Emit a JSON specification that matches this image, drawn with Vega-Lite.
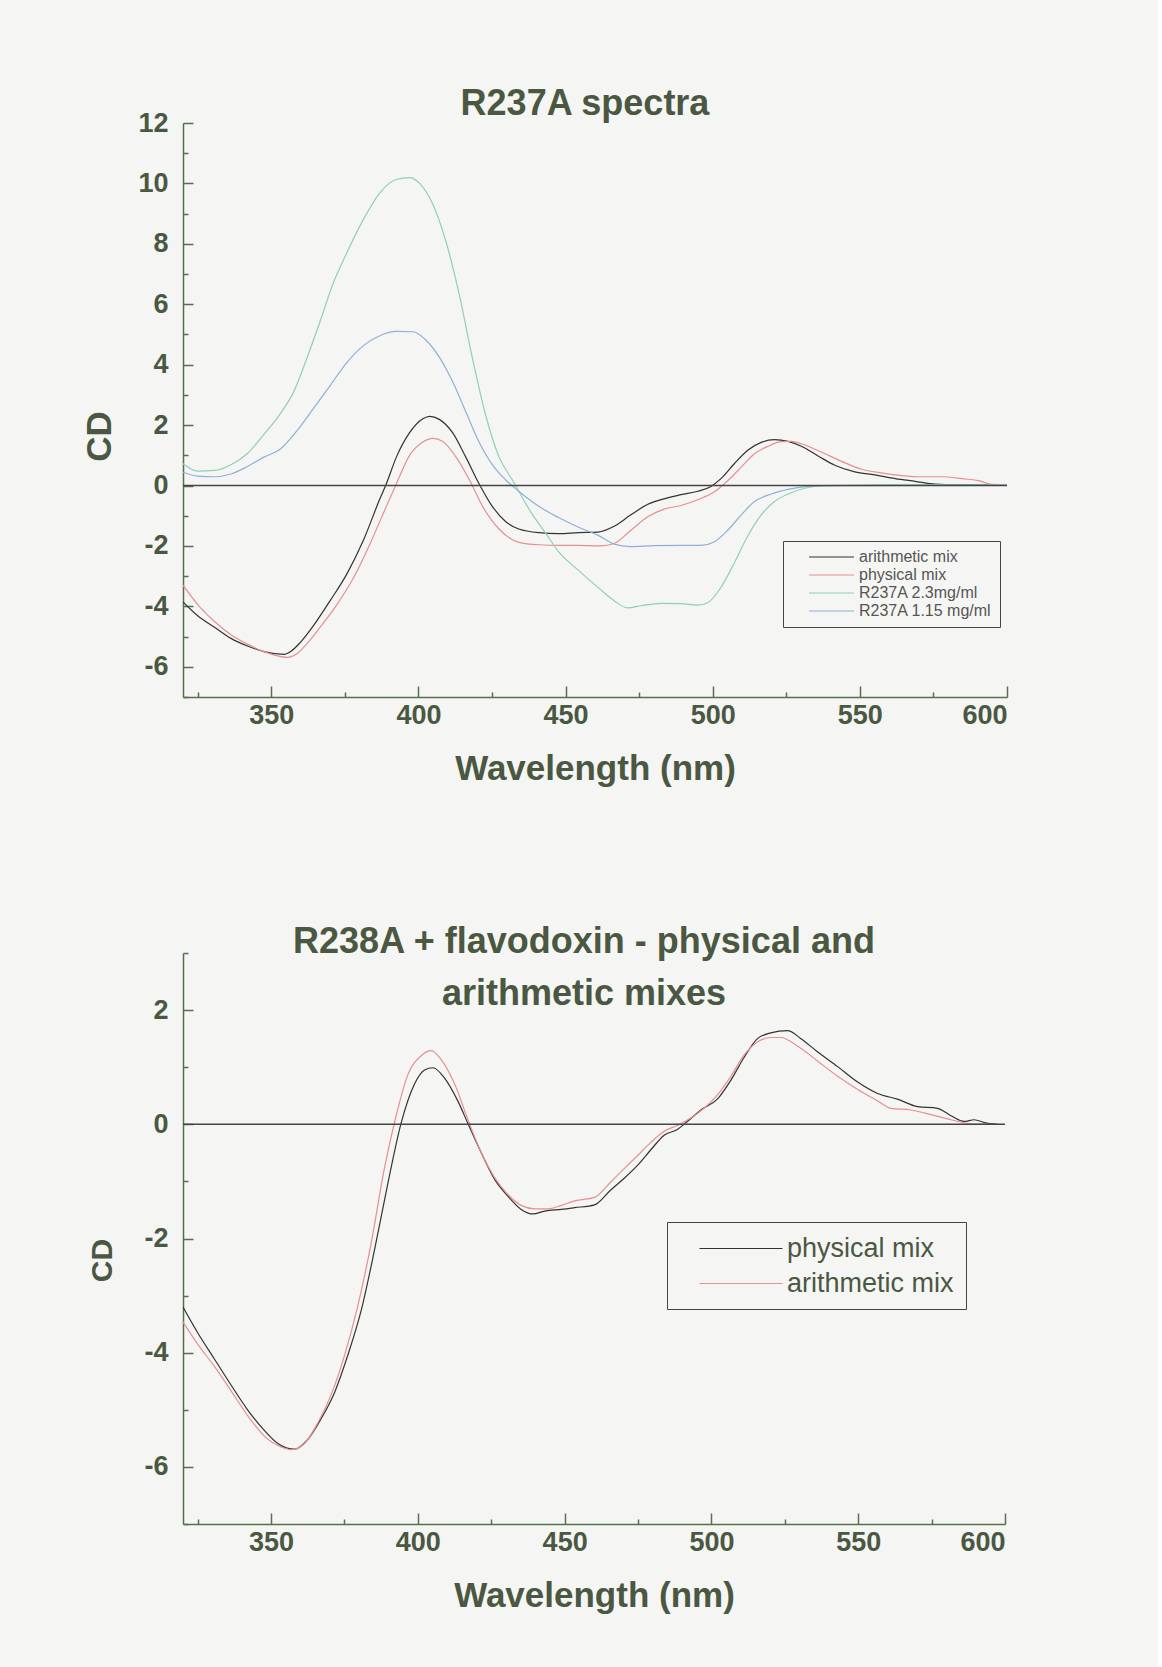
{
  "$schema": "https://vega.github.io/schema/vega-lite/v6.json",
  "background": "#f5f5f3",
  "padding": {"left": 82, "top": 86, "right": 150, "bottom": 60},
  "spacing": 138,
  "config": {
    "view": {"stroke": null},
    "font": "Liberation Sans",
    "axis": {
      "labelFont": "Liberation Sans", "labelFontWeight": "bold", "labelFontSize": 27, "labelColor": "#4a5842",
      "titleFont": "Liberation Sans", "titleFontWeight": "bold", "titleFontSize": 35, "titleColor": "#4a5842",
      "domainColor": "#55704a", "domainWidth": 1.5, "tickColor": "#55704a", "tickWidth": 1.5, "grid": false,
      "labelExpr": "replace(datum.label, '\u2212', '-')"
    },
    "title": {"font": "Liberation Sans", "fontWeight": "bold", "fontSize": 36, "color": "#4a5842"}
  },
  "datasets": {
    "top": [
      {"wl": 320, "cd": -3.85, "series": "arithmetic mix"},
      {"wl": 325, "cd": -4.31, "series": "arithmetic mix"},
      {"wl": 330.7, "cd": -4.69, "series": "arithmetic mix"},
      {"wl": 336.3, "cd": -5.06, "series": "arithmetic mix"},
      {"wl": 341.9, "cd": -5.31, "series": "arithmetic mix"},
      {"wl": 347.5, "cd": -5.5, "series": "arithmetic mix"},
      {"wl": 354.3, "cd": -5.59, "series": "arithmetic mix"},
      {"wl": 356.5, "cd": -5.5, "series": "arithmetic mix"},
      {"wl": 359.9, "cd": -5.19, "series": "arithmetic mix"},
      {"wl": 364.4, "cd": -4.63, "series": "arithmetic mix"},
      {"wl": 370, "cd": -3.81, "series": "arithmetic mix"},
      {"wl": 375.6, "cd": -2.94, "series": "arithmetic mix"},
      {"wl": 381.3, "cd": -1.81, "series": "arithmetic mix"},
      {"wl": 386.9, "cd": -0.44, "series": "arithmetic mix"},
      {"wl": 389.1, "cd": 0.06, "series": "arithmetic mix"},
      {"wl": 392.5, "cd": 0.94, "series": "arithmetic mix"},
      {"wl": 397, "cd": 1.75, "series": "arithmetic mix"},
      {"wl": 401.5, "cd": 2.21, "series": "arithmetic mix"},
      {"wl": 403.8, "cd": 2.29, "series": "arithmetic mix"},
      {"wl": 407.1, "cd": 2.19, "series": "arithmetic mix"},
      {"wl": 411.6, "cd": 1.75, "series": "arithmetic mix"},
      {"wl": 416.1, "cd": 0.94, "series": "arithmetic mix"},
      {"wl": 420.6, "cd": 0.06, "series": "arithmetic mix"},
      {"wl": 425.1, "cd": -0.69, "series": "arithmetic mix"},
      {"wl": 429.6, "cd": -1.19, "series": "arithmetic mix"},
      {"wl": 434.1, "cd": -1.44, "series": "arithmetic mix"},
      {"wl": 440.9, "cd": -1.56, "series": "arithmetic mix"},
      {"wl": 447.6, "cd": -1.59, "series": "arithmetic mix"},
      {"wl": 454.4, "cd": -1.56, "series": "arithmetic mix"},
      {"wl": 461.1, "cd": -1.54, "series": "arithmetic mix"},
      {"wl": 466.5, "cd": -1.35, "series": "arithmetic mix"},
      {"wl": 472.2, "cd": -0.97, "series": "arithmetic mix"},
      {"wl": 477.8, "cd": -0.63, "series": "arithmetic mix"},
      {"wl": 483.5, "cd": -0.44, "series": "arithmetic mix"},
      {"wl": 489.2, "cd": -0.3, "series": "arithmetic mix"},
      {"wl": 494.9, "cd": -0.19, "series": "arithmetic mix"},
      {"wl": 499.4, "cd": -0.03, "series": "arithmetic mix"},
      {"wl": 502.8, "cd": 0.23, "series": "arithmetic mix"},
      {"wl": 507.4, "cd": 0.73, "series": "arithmetic mix"},
      {"wl": 511.9, "cd": 1.17, "series": "arithmetic mix"},
      {"wl": 516.5, "cd": 1.43, "series": "arithmetic mix"},
      {"wl": 521, "cd": 1.52, "series": "arithmetic mix"},
      {"wl": 525.6, "cd": 1.46, "series": "arithmetic mix"},
      {"wl": 530.1, "cd": 1.3, "series": "arithmetic mix"},
      {"wl": 535.8, "cd": 0.98, "series": "arithmetic mix"},
      {"wl": 541.5, "cd": 0.67, "series": "arithmetic mix"},
      {"wl": 548.3, "cd": 0.45, "series": "arithmetic mix"},
      {"wl": 555.1, "cd": 0.35, "series": "arithmetic mix"},
      {"wl": 562, "cd": 0.23, "series": "arithmetic mix"},
      {"wl": 568.8, "cd": 0.14, "series": "arithmetic mix"},
      {"wl": 575.6, "cd": 0.05, "series": "arithmetic mix"},
      {"wl": 582.4, "cd": 0.03, "series": "arithmetic mix"},
      {"wl": 600, "cd": 0.03, "series": "arithmetic mix"},

      {"wl": 320, "cd": -3.3, "series": "physical mix"},
      {"wl": 325, "cd": -3.94, "series": "physical mix"},
      {"wl": 330.7, "cd": -4.5, "series": "physical mix"},
      {"wl": 336.3, "cd": -4.94, "series": "physical mix"},
      {"wl": 341.9, "cd": -5.25, "series": "physical mix"},
      {"wl": 347.5, "cd": -5.5, "series": "physical mix"},
      {"wl": 355.4, "cd": -5.69, "series": "physical mix"},
      {"wl": 358.8, "cd": -5.56, "series": "physical mix"},
      {"wl": 362, "cd": -5.25, "series": "physical mix"},
      {"wl": 366.6, "cd": -4.69, "series": "physical mix"},
      {"wl": 372.3, "cd": -3.94, "series": "physical mix"},
      {"wl": 377.9, "cd": -3.06, "series": "physical mix"},
      {"wl": 383.5, "cd": -1.94, "series": "physical mix"},
      {"wl": 389.1, "cd": -0.69, "series": "physical mix"},
      {"wl": 392.5, "cd": 0.06, "series": "physical mix"},
      {"wl": 397, "cd": 1.0, "series": "physical mix"},
      {"wl": 401.5, "cd": 1.44, "series": "physical mix"},
      {"wl": 404.9, "cd": 1.56, "series": "physical mix"},
      {"wl": 408.3, "cd": 1.46, "series": "physical mix"},
      {"wl": 412.8, "cd": 0.94, "series": "physical mix"},
      {"wl": 417.3, "cd": 0.19, "series": "physical mix"},
      {"wl": 421.8, "cd": -0.69, "series": "physical mix"},
      {"wl": 427.4, "cd": -1.44, "series": "physical mix"},
      {"wl": 434.1, "cd": -1.88, "series": "physical mix"},
      {"wl": 440.9, "cd": -1.96, "series": "physical mix"},
      {"wl": 447.6, "cd": -1.98, "series": "physical mix"},
      {"wl": 454.4, "cd": -1.98, "series": "physical mix"},
      {"wl": 461.9, "cd": -2.0, "series": "physical mix"},
      {"wl": 466.5, "cd": -1.92, "series": "physical mix"},
      {"wl": 472.2, "cd": -1.48, "series": "physical mix"},
      {"wl": 477.8, "cd": -1.04, "series": "physical mix"},
      {"wl": 483.5, "cd": -0.78, "series": "physical mix"},
      {"wl": 489.2, "cd": -0.66, "series": "physical mix"},
      {"wl": 494.9, "cd": -0.47, "series": "physical mix"},
      {"wl": 500.6, "cd": -0.21, "series": "physical mix"},
      {"wl": 505.1, "cd": 0.16, "series": "physical mix"},
      {"wl": 509.7, "cd": 0.61, "series": "physical mix"},
      {"wl": 514.2, "cd": 1.05, "series": "physical mix"},
      {"wl": 518.8, "cd": 1.3, "series": "physical mix"},
      {"wl": 523.3, "cd": 1.45, "series": "physical mix"},
      {"wl": 526.7, "cd": 1.46, "series": "physical mix"},
      {"wl": 531.3, "cd": 1.34, "series": "physical mix"},
      {"wl": 536.9, "cd": 1.11, "series": "physical mix"},
      {"wl": 543.8, "cd": 0.8, "series": "physical mix"},
      {"wl": 550.6, "cd": 0.54, "series": "physical mix"},
      {"wl": 557.4, "cd": 0.42, "series": "physical mix"},
      {"wl": 564.2, "cd": 0.33, "series": "physical mix"},
      {"wl": 571, "cd": 0.29, "series": "physical mix"},
      {"wl": 577.8, "cd": 0.29, "series": "physical mix"},
      {"wl": 584.7, "cd": 0.23, "series": "physical mix"},
      {"wl": 590.3, "cd": 0.16, "series": "physical mix"},
      {"wl": 594.9, "cd": 0.04, "series": "physical mix"},
      {"wl": 600, "cd": 0.03, "series": "physical mix"},

      {"wl": 320, "cd": 0.72, "series": "R237A 2.3mg/ml"},
      {"wl": 325, "cd": 0.48, "series": "R237A 2.3mg/ml"},
      {"wl": 330.7, "cd": 0.5, "series": "R237A 2.3mg/ml"},
      {"wl": 336.3, "cd": 0.69, "series": "R237A 2.3mg/ml"},
      {"wl": 341.9, "cd": 1.06, "series": "R237A 2.3mg/ml"},
      {"wl": 347.5, "cd": 1.69, "series": "R237A 2.3mg/ml"},
      {"wl": 353.1, "cd": 2.38, "series": "R237A 2.3mg/ml"},
      {"wl": 357.6, "cd": 3.1, "series": "R237A 2.3mg/ml"},
      {"wl": 362, "cd": 4.19, "series": "R237A 2.3mg/ml"},
      {"wl": 366.6, "cd": 5.44, "series": "R237A 2.3mg/ml"},
      {"wl": 371, "cd": 6.69, "series": "R237A 2.3mg/ml"},
      {"wl": 375.6, "cd": 7.69, "series": "R237A 2.3mg/ml"},
      {"wl": 381.3, "cd": 8.81, "series": "R237A 2.3mg/ml"},
      {"wl": 386.9, "cd": 9.69, "series": "R237A 2.3mg/ml"},
      {"wl": 392.5, "cd": 10.13, "series": "R237A 2.3mg/ml"},
      {"wl": 397, "cd": 10.19, "series": "R237A 2.3mg/ml"},
      {"wl": 400.4, "cd": 10.0, "series": "R237A 2.3mg/ml"},
      {"wl": 404.9, "cd": 9.31, "series": "R237A 2.3mg/ml"},
      {"wl": 409.4, "cd": 8.06, "series": "R237A 2.3mg/ml"},
      {"wl": 413.9, "cd": 6.31, "series": "R237A 2.3mg/ml"},
      {"wl": 418.4, "cd": 4.19, "series": "R237A 2.3mg/ml"},
      {"wl": 422.9, "cd": 2.31, "series": "R237A 2.3mg/ml"},
      {"wl": 427.4, "cd": 0.94, "series": "R237A 2.3mg/ml"},
      {"wl": 431.9, "cd": 0.19, "series": "R237A 2.3mg/ml"},
      {"wl": 434.1, "cd": -0.19, "series": "R237A 2.3mg/ml"},
      {"wl": 438.6, "cd": -0.94, "series": "R237A 2.3mg/ml"},
      {"wl": 443.1, "cd": -1.56, "series": "R237A 2.3mg/ml"},
      {"wl": 447.6, "cd": -2.19, "series": "R237A 2.3mg/ml"},
      {"wl": 454.4, "cd": -2.81, "series": "R237A 2.3mg/ml"},
      {"wl": 461.1, "cd": -3.38, "series": "R237A 2.3mg/ml"},
      {"wl": 466.5, "cd": -3.81, "series": "R237A 2.3mg/ml"},
      {"wl": 471, "cd": -4.05, "series": "R237A 2.3mg/ml"},
      {"wl": 475.6, "cd": -3.98, "series": "R237A 2.3mg/ml"},
      {"wl": 482.4, "cd": -3.9, "series": "R237A 2.3mg/ml"},
      {"wl": 489.2, "cd": -3.91, "series": "R237A 2.3mg/ml"},
      {"wl": 494.9, "cd": -3.96, "series": "R237A 2.3mg/ml"},
      {"wl": 498.3, "cd": -3.88, "series": "R237A 2.3mg/ml"},
      {"wl": 502.8, "cd": -3.37, "series": "R237A 2.3mg/ml"},
      {"wl": 507.4, "cd": -2.55, "series": "R237A 2.3mg/ml"},
      {"wl": 511.9, "cd": -1.67, "series": "R237A 2.3mg/ml"},
      {"wl": 516.5, "cd": -0.97, "series": "R237A 2.3mg/ml"},
      {"wl": 521, "cd": -0.53, "series": "R237A 2.3mg/ml"},
      {"wl": 525.6, "cd": -0.28, "series": "R237A 2.3mg/ml"},
      {"wl": 531.3, "cd": -0.09, "series": "R237A 2.3mg/ml"},
      {"wl": 536.9, "cd": 0.0, "series": "R237A 2.3mg/ml"},
      {"wl": 560, "cd": 0.02, "series": "R237A 2.3mg/ml"},
      {"wl": 600, "cd": 0.02, "series": "R237A 2.3mg/ml"},

      {"wl": 320, "cd": 0.44, "series": "R237A 1.15 mg/ml"},
      {"wl": 325, "cd": 0.31, "series": "R237A 1.15 mg/ml"},
      {"wl": 330.7, "cd": 0.29, "series": "R237A 1.15 mg/ml"},
      {"wl": 336.3, "cd": 0.38, "series": "R237A 1.15 mg/ml"},
      {"wl": 341.9, "cd": 0.63, "series": "R237A 1.15 mg/ml"},
      {"wl": 347.5, "cd": 0.94, "series": "R237A 1.15 mg/ml"},
      {"wl": 353.1, "cd": 1.21, "series": "R237A 1.15 mg/ml"},
      {"wl": 358.7, "cd": 1.81, "series": "R237A 1.15 mg/ml"},
      {"wl": 364.4, "cd": 2.56, "series": "R237A 1.15 mg/ml"},
      {"wl": 370, "cd": 3.31, "series": "R237A 1.15 mg/ml"},
      {"wl": 375.6, "cd": 4.06, "series": "R237A 1.15 mg/ml"},
      {"wl": 381.3, "cd": 4.63, "series": "R237A 1.15 mg/ml"},
      {"wl": 386.9, "cd": 4.96, "series": "R237A 1.15 mg/ml"},
      {"wl": 392.5, "cd": 5.1, "series": "R237A 1.15 mg/ml"},
      {"wl": 398.1, "cd": 5.09, "series": "R237A 1.15 mg/ml"},
      {"wl": 402.6, "cd": 4.81, "series": "R237A 1.15 mg/ml"},
      {"wl": 407.1, "cd": 4.25, "series": "R237A 1.15 mg/ml"},
      {"wl": 411.6, "cd": 3.44, "series": "R237A 1.15 mg/ml"},
      {"wl": 416.1, "cd": 2.44, "series": "R237A 1.15 mg/ml"},
      {"wl": 420.6, "cd": 1.44, "series": "R237A 1.15 mg/ml"},
      {"wl": 425.1, "cd": 0.69, "series": "R237A 1.15 mg/ml"},
      {"wl": 429.6, "cd": 0.19, "series": "R237A 1.15 mg/ml"},
      {"wl": 434.1, "cd": -0.19, "series": "R237A 1.15 mg/ml"},
      {"wl": 440.9, "cd": -0.69, "series": "R237A 1.15 mg/ml"},
      {"wl": 447.6, "cd": -1.06, "series": "R237A 1.15 mg/ml"},
      {"wl": 454.4, "cd": -1.38, "series": "R237A 1.15 mg/ml"},
      {"wl": 461.1, "cd": -1.65, "series": "R237A 1.15 mg/ml"},
      {"wl": 466.5, "cd": -1.94, "series": "R237A 1.15 mg/ml"},
      {"wl": 471.9, "cd": -2.02, "series": "R237A 1.15 mg/ml"},
      {"wl": 480.1, "cd": -1.99, "series": "R237A 1.15 mg/ml"},
      {"wl": 489.2, "cd": -1.98, "series": "R237A 1.15 mg/ml"},
      {"wl": 496, "cd": -1.98, "series": "R237A 1.15 mg/ml"},
      {"wl": 500.6, "cd": -1.86, "series": "R237A 1.15 mg/ml"},
      {"wl": 505.1, "cd": -1.48, "series": "R237A 1.15 mg/ml"},
      {"wl": 509.7, "cd": -0.97, "series": "R237A 1.15 mg/ml"},
      {"wl": 514.2, "cd": -0.53, "series": "R237A 1.15 mg/ml"},
      {"wl": 519.9, "cd": -0.28, "series": "R237A 1.15 mg/ml"},
      {"wl": 525.6, "cd": -0.13, "series": "R237A 1.15 mg/ml"},
      {"wl": 532.4, "cd": -0.03, "series": "R237A 1.15 mg/ml"},
      {"wl": 542.6, "cd": 0.0, "series": "R237A 1.15 mg/ml"},
      {"wl": 600, "cd": 0.01, "series": "R237A 1.15 mg/ml"}
    ],
    "bottom": [
      {"wl": 320, "cd": -3.2, "series": "physical mix"},
      {"wl": 325, "cd": -3.65, "series": "physical mix"},
      {"wl": 330.7, "cd": -4.11, "series": "physical mix"},
      {"wl": 336.4, "cd": -4.57, "series": "physical mix"},
      {"wl": 342, "cd": -5.0, "series": "physical mix"},
      {"wl": 347.7, "cd": -5.36, "series": "physical mix"},
      {"wl": 352.3, "cd": -5.59, "series": "physical mix"},
      {"wl": 358, "cd": -5.69, "series": "physical mix"},
      {"wl": 362.5, "cd": -5.52, "series": "physical mix"},
      {"wl": 367, "cd": -5.16, "series": "physical mix"},
      {"wl": 371.6, "cd": -4.7, "series": "physical mix"},
      {"wl": 376.1, "cd": -4.05, "series": "physical mix"},
      {"wl": 380.7, "cd": -3.26, "series": "physical mix"},
      {"wl": 385.2, "cd": -2.21, "series": "physical mix"},
      {"wl": 389.8, "cd": -1.03, "series": "physical mix"},
      {"wl": 394.3, "cd": 0.02, "series": "physical mix"},
      {"wl": 398.9, "cd": 0.71, "series": "physical mix"},
      {"wl": 402.3, "cd": 0.95, "series": "physical mix"},
      {"wl": 405.1, "cd": 0.99, "series": "physical mix"},
      {"wl": 409.1, "cd": 0.81, "series": "physical mix"},
      {"wl": 413.6, "cd": 0.41, "series": "physical mix"},
      {"wl": 417, "cd": 0.02, "series": "physical mix"},
      {"wl": 421.6, "cd": -0.5, "series": "physical mix"},
      {"wl": 426.1, "cd": -0.96, "series": "physical mix"},
      {"wl": 430.7, "cd": -1.26, "series": "physical mix"},
      {"wl": 435.2, "cd": -1.49, "series": "physical mix"},
      {"wl": 439.2, "cd": -1.57, "series": "physical mix"},
      {"wl": 443.2, "cd": -1.52, "series": "physical mix"},
      {"wl": 448.9, "cd": -1.49, "series": "physical mix"},
      {"wl": 453.4, "cd": -1.46, "series": "physical mix"},
      {"wl": 460.2, "cd": -1.41, "series": "physical mix"},
      {"wl": 465.7, "cd": -1.15, "series": "physical mix"},
      {"wl": 470.2, "cd": -0.95, "series": "physical mix"},
      {"wl": 474.8, "cd": -0.72, "series": "physical mix"},
      {"wl": 479.3, "cd": -0.45, "series": "physical mix"},
      {"wl": 483.9, "cd": -0.19, "series": "physical mix"},
      {"wl": 488.4, "cd": -0.09, "series": "physical mix"},
      {"wl": 491.8, "cd": 0.05, "series": "physical mix"},
      {"wl": 496.4, "cd": 0.25, "series": "physical mix"},
      {"wl": 502, "cd": 0.44, "series": "physical mix"},
      {"wl": 506.6, "cd": 0.77, "series": "physical mix"},
      {"wl": 511.1, "cd": 1.17, "series": "physical mix"},
      {"wl": 515.7, "cd": 1.5, "series": "physical mix"},
      {"wl": 520.2, "cd": 1.6, "series": "physical mix"},
      {"wl": 525.9, "cd": 1.64, "series": "physical mix"},
      {"wl": 530.5, "cd": 1.5, "series": "physical mix"},
      {"wl": 536.1, "cd": 1.27, "series": "physical mix"},
      {"wl": 543, "cd": 1.01, "series": "physical mix"},
      {"wl": 549.8, "cd": 0.74, "series": "physical mix"},
      {"wl": 556.6, "cd": 0.54, "series": "physical mix"},
      {"wl": 563.4, "cd": 0.44, "series": "physical mix"},
      {"wl": 570.2, "cd": 0.31, "series": "physical mix"},
      {"wl": 577, "cd": 0.28, "series": "physical mix"},
      {"wl": 581.6, "cd": 0.15, "series": "physical mix"},
      {"wl": 586.1, "cd": 0.05, "series": "physical mix"},
      {"wl": 589.5, "cd": 0.08, "series": "physical mix"},
      {"wl": 593, "cd": 0.03, "series": "physical mix"},
      {"wl": 597.5, "cd": 0.0, "series": "physical mix"},

      {"wl": 320, "cd": -3.46, "series": "arithmetic mix"},
      {"wl": 325, "cd": -3.85, "series": "arithmetic mix"},
      {"wl": 330.7, "cd": -4.24, "series": "arithmetic mix"},
      {"wl": 336.4, "cd": -4.67, "series": "arithmetic mix"},
      {"wl": 342, "cd": -5.1, "series": "arithmetic mix"},
      {"wl": 347.7, "cd": -5.46, "series": "arithmetic mix"},
      {"wl": 353.4, "cd": -5.65, "series": "arithmetic mix"},
      {"wl": 356.8, "cd": -5.7, "series": "arithmetic mix"},
      {"wl": 361.4, "cd": -5.59, "series": "arithmetic mix"},
      {"wl": 365.9, "cd": -5.23, "series": "arithmetic mix"},
      {"wl": 370.5, "cd": -4.73, "series": "arithmetic mix"},
      {"wl": 375, "cd": -4.05, "series": "arithmetic mix"},
      {"wl": 379.5, "cd": -3.19, "series": "arithmetic mix"},
      {"wl": 384.1, "cd": -2.08, "series": "arithmetic mix"},
      {"wl": 388.6, "cd": -0.77, "series": "arithmetic mix"},
      {"wl": 392.6, "cd": 0.15, "series": "arithmetic mix"},
      {"wl": 396.6, "cd": 0.87, "series": "arithmetic mix"},
      {"wl": 401.1, "cd": 1.2, "series": "arithmetic mix"},
      {"wl": 404.5, "cd": 1.29, "series": "arithmetic mix"},
      {"wl": 408, "cd": 1.13, "series": "arithmetic mix"},
      {"wl": 412.5, "cd": 0.71, "series": "arithmetic mix"},
      {"wl": 417, "cd": 0.09, "series": "arithmetic mix"},
      {"wl": 421.6, "cd": -0.5, "series": "arithmetic mix"},
      {"wl": 426.1, "cd": -0.93, "series": "arithmetic mix"},
      {"wl": 430.7, "cd": -1.23, "series": "arithmetic mix"},
      {"wl": 435.2, "cd": -1.42, "series": "arithmetic mix"},
      {"wl": 439.8, "cd": -1.48, "series": "arithmetic mix"},
      {"wl": 444.3, "cd": -1.48, "series": "arithmetic mix"},
      {"wl": 448.9, "cd": -1.42, "series": "arithmetic mix"},
      {"wl": 453.4, "cd": -1.34, "series": "arithmetic mix"},
      {"wl": 460.2, "cd": -1.28, "series": "arithmetic mix"},
      {"wl": 465.7, "cd": -1.01, "series": "arithmetic mix"},
      {"wl": 470.2, "cd": -0.78, "series": "arithmetic mix"},
      {"wl": 474.8, "cd": -0.55, "series": "arithmetic mix"},
      {"wl": 479.3, "cd": -0.32, "series": "arithmetic mix"},
      {"wl": 483.9, "cd": -0.12, "series": "arithmetic mix"},
      {"wl": 488.4, "cd": -0.02, "series": "arithmetic mix"},
      {"wl": 493, "cd": 0.11, "series": "arithmetic mix"},
      {"wl": 497.5, "cd": 0.28, "series": "arithmetic mix"},
      {"wl": 502, "cd": 0.51, "series": "arithmetic mix"},
      {"wl": 506.6, "cd": 0.84, "series": "arithmetic mix"},
      {"wl": 511.1, "cd": 1.21, "series": "arithmetic mix"},
      {"wl": 515.7, "cd": 1.44, "series": "arithmetic mix"},
      {"wl": 520.2, "cd": 1.52, "series": "arithmetic mix"},
      {"wl": 523.6, "cd": 1.52, "series": "arithmetic mix"},
      {"wl": 529.3, "cd": 1.37, "series": "arithmetic mix"},
      {"wl": 536.1, "cd": 1.11, "series": "arithmetic mix"},
      {"wl": 543, "cd": 0.84, "series": "arithmetic mix"},
      {"wl": 549.8, "cd": 0.61, "series": "arithmetic mix"},
      {"wl": 556.6, "cd": 0.41, "series": "arithmetic mix"},
      {"wl": 561.1, "cd": 0.28, "series": "arithmetic mix"},
      {"wl": 568, "cd": 0.25, "series": "arithmetic mix"},
      {"wl": 574.8, "cd": 0.17, "series": "arithmetic mix"},
      {"wl": 581.6, "cd": 0.08, "series": "arithmetic mix"},
      {"wl": 588.4, "cd": 0.01, "series": "arithmetic mix"},
      {"wl": 597, "cd": 0.0, "series": "arithmetic mix"}
    ]
  },
  "resolve": {"scale": {"color": "independent"}},
  "vconcat": [
    {
      "width": 824,
      "height": 574,
      "title": {"text": "R237A spectra", "offset": -14, "dx": -10},
      "layer": [
        {
          "data": {"name": "top"},
          "mark": {"type": "line", "strokeWidth": 1.2, "clip": true, "interpolate": "monotone"},
          "encoding": {
            "x": {"field": "wl", "type": "quantitative",
              "scale": {"domain": [320, 600], "nice": false, "zero": false},
              "axis": {"values": [350, 400, 450, 500, 550, 600], "tickSize": -11, "labelPadding": 16, "title": "Wavelength (nm)", "titlePadding": 23}},
            "y": {"field": "cd", "type": "quantitative",
              "scale": {"domain": [-7, 12], "nice": false, "zero": false},
              "axis": {"values": [-6, -4, -2, 0, 2, 4, 6, 8, 10, 12], "tickSize": -10, "labelPadding": 25, "title": "CD", "titlePadding": 20, "titleY": 313}},
            "color": {"field": "series", "type": "nominal",
              "scale": {"domain": ["arithmetic mix", "physical mix", "R237A 2.3mg/ml", "R237A 1.15 mg/ml"], "range": ["#333333", "#e59090", "#90d0b4", "#8fb0d8"]},
              "legend": {"orient": "none", "legendX": 600, "legendY": 418, "title": null, "symbolType": "M1.43,0H7.86", "symbolSize": 196, "symbolStrokeWidth": 1.2, "labelFontSize": 16, "labelFont": "Liberation Sans", "labelColor": "#555555", "labelLimit": 400, "strokeColor": "#444444", "padding": 8, "rowPadding": 2, "labelOffset": 52}}
          }
        },
        {
          "data": {"values": [{}]},
          "mark": {"type": "rule", "color": "#444444", "strokeWidth": 1.5},
          "encoding": {
            "x": {"datum": 320, "type": "quantitative", "axis": {"orient": "bottom", "values": [325, 375, 425, 475, 525, 575], "labels": false, "domain": false, "title": null, "tickSize": -5}},
            "x2": {"datum": 600},
            "y": {"datum": 0, "type": "quantitative", "axis": {"orient": "left", "values": [-7, -5, -3, -1, 1, 3, 5, 7, 9, 11], "labels": false, "domain": false, "title": null, "tickSize": -5}}
          }
        }
      ],
      "resolve": {"axis": {"x": "independent", "y": "independent"}}
    },
    {
      "width": 822,
      "height": 571,
      "title": {"text": ["R238A + flavodoxin - physical and", "arithmetic mixes"], "offset": -61, "lineHeight": 52, "dx": -10},
      "layer": [
        {
          "data": {"name": "bottom"},
          "mark": {"type": "line", "strokeWidth": 1.2, "clip": true, "interpolate": "monotone"},
          "encoding": {
            "x": {"field": "wl", "type": "quantitative",
              "scale": {"domain": [320, 600], "nice": false, "zero": false},
              "axis": {"values": [350, 400, 450, 500, 550, 600], "tickSize": -11, "labelPadding": 16, "title": "Wavelength (nm)", "titlePadding": 23}},
            "y": {"field": "cd", "type": "quantitative",
              "scale": {"domain": [-7, 3], "nice": false, "zero": false},
              "axis": {"values": [-6, -4, -2, 0, 2], "tickSize": -10, "labelPadding": 25, "title": "CD", "titleFontSize": 30, "titlePadding": 26, "titleY": 307}},
            "color": {"field": "series", "type": "nominal",
              "scale": {"domain": ["physical mix", "arithmetic mix"], "range": ["#333333", "#e59090"]},
              "legend": {"orient": "none", "legendX": 484, "legendY": 269, "title": null, "symbolType": "M0.44,0H6.59", "symbolSize": 729, "symbolStrokeWidth": 1.2, "labelFontSize": 27, "labelFont": "Liberation Sans", "labelColor": "#4a5842", "labelLimit": 400, "strokeColor": "#444444", "padding": 12, "rowPadding": 7, "labelOffset": 79}}
          }
        },
        {
          "data": {"values": [{}]},
          "mark": {"type": "rule", "color": "#444444", "strokeWidth": 1.5},
          "encoding": {
            "x": {"datum": 320, "type": "quantitative", "axis": {"orient": "bottom", "values": [325, 375, 425, 475, 525, 575], "labels": false, "domain": false, "title": null, "tickSize": -5}},
            "x2": {"datum": 600},
            "y": {"datum": 0, "type": "quantitative", "axis": {"orient": "left", "values": [-7, -5, -3, -1, 1, 3], "labels": false, "domain": false, "title": null, "tickSize": -5}}
          }
        }
      ],
      "resolve": {"axis": {"x": "independent", "y": "independent"}}
    }
  ]
}
